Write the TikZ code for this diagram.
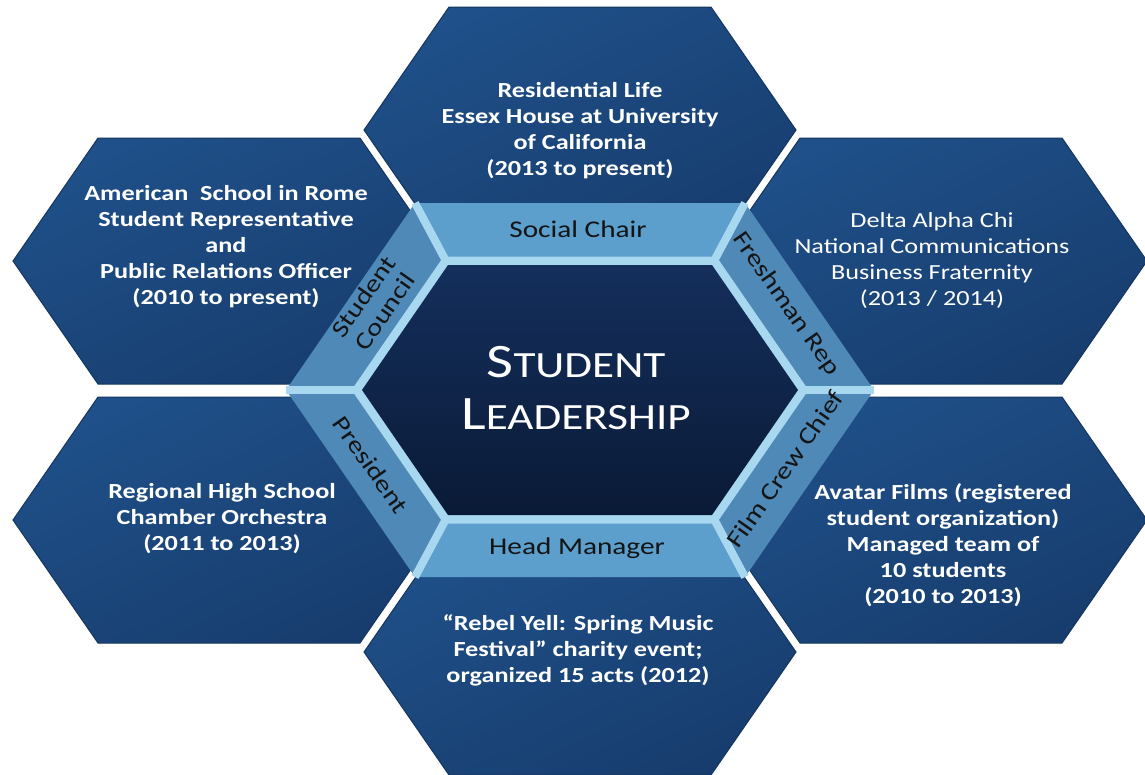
\documentclass[tikz,border=0pt]{standalone}
\usepackage{fontspec}
\setmainfont{Carlito}[FakeStretch=1.22]
\definecolor{hexA}{HTML}{1F5089}
\definecolor{hexB}{HTML}{173D6E}
\definecolor{hexE}{HTML}{14355F}
\definecolor{bandTB}{HTML}{5C9ECC}
\definecolor{bandS}{HTML}{4F89B7}
\definecolor{sep}{HTML}{A8D7F0}
\definecolor{darkA}{HTML}{142F5C}
\definecolor{darkB}{HTML}{0A1A36}
\definecolor{bandInk}{HTML}{141414}
\newcommand\myhex[5]{(#1-#3,#2) -- (#1-#4,#2-#5) -- (#1+#4,#2-#5) -- (#1+#3,#2) -- (#1+#4,#2+#5) -- (#1-#4,#2+#5) -- cycle}
\tikzset{
  hexout/.style={top color=hexA, bottom color=hexB, shading angle=25, draw=hexE, line width=1pt},
  bandtb/.style={fill=bandTB},
  bandside/.style={fill=bandS},
  sepline/.style={draw=sep, line width=8pt},
  darkhex/.style={top color=darkA, bottom color=darkB},
  hextext/.style={text=white, align=center, font=\bfseries\fontsize{21.5}{26}\selectfont, inner sep=0pt},
  hextextlight/.style={text=white, align=center, font=\fontsize{21.5}{26}\selectfont, inner sep=0pt},
  bandtext/.style={text=bandInk, align=center, font=\fontsize{24}{26}\selectfont, inner sep=0pt},
  centertext/.style={text=white, align=center, font=\fontsize{37}{52}\selectfont, inner sep=0pt}
}
\begin{document}
\begin{tikzpicture}[x=1pt,y=-1pt]
\useasboundingbox (0,0) rectangle (1145,774);
\fill[white] (0,0) rectangle (1145,774);
% outer hexagons
\path[hexout] \myhex{580}{130}{216}{131}{123};
\path[hexout] \myhex{229}{261}{216}{131}{123};
\path[hexout] \myhex{931}{261}{216}{131}{123};
\path[hexout] \myhex{229}{520}{216}{131}{123};
\path[hexout] \myhex{931}{520}{216}{131}{123};
\path[hexout] \myhex{580}{652}{216}{131}{123};
% ring coordinates
\coordinate (o1) at (286,390); \coordinate (o2) at (415,203); \coordinate (o3) at (745,203);
\coordinate (o4) at (874,390); \coordinate (o5) at (745,577); \coordinate (o6) at (415,577);
\coordinate (i1) at (364,390); \coordinate (i2) at (449,267); \coordinate (i3) at (711,267);
\coordinate (i4) at (796,390); \coordinate (i5) at (711,513); \coordinate (i6) at (449,513);
\coordinate (s1) at (357,390); \coordinate (s2) at (446,261); \coordinate (s3) at (714,261);
\coordinate (s4) at (803,390); \coordinate (s5) at (714,519); \coordinate (s6) at (446,519);
% bands
\path[bandtb] (o2) -- (o3) -- (i3) -- (i2) -- cycle;
\path[bandtb] (o5) -- (o6) -- (i6) -- (i5) -- cycle;
\path[bandside] (o1) -- (o2) -- (i2) -- (i1) -- cycle;
\path[bandside] (o3) -- (o4) -- (i4) -- (i3) -- cycle;
\path[bandside] (o4) -- (o5) -- (i5) -- (i4) -- cycle;
\path[bandside] (o6) -- (o1) -- (i1) -- (i6) -- cycle;
% separators
\foreach \k in {1,...,6} { \draw[sepline] (o\k) -- (s\k); }
\draw[sep, line width=9pt, line join=miter] (s1) -- (s2) -- (s3) -- (s4) -- (s5) -- (s6) -- cycle;
% central hexagon
\path[darkhex] \myhex{580}{390}{218}{132}{125};
% texts
\node[hextext] (tT) at (580,131) {Residential Life\\Essex House at University\\of California\\(2013 to present)};
\node[hextext] (tTL) at (226,247) {American\ \ School in Rome\\Student Representative\\and\\Public Relations Officer\\(2010 to present)};
\node[hextextlight] (tTR) at (932,261) {Delta Alpha Chi\\National Communications\\Business Fraternity\\(2013 / 2014)};
\node[hextext] (tBL) at (222,519) {Regional High School\\Chamber Orchestra\\(2011 to 2013)};
\node[hextext] (tBR) at (943,545) {Avatar Films (registered\\student organization)\\Managed team of\\10 students\\(2010 to 2013)};
\node[hextext] (tB) at (578,650) {“Rebel Yell: Spring Music\\Festival” charity event;\\organized 15 acts (2012)};
% band labels
\node[bandtext] (lSC) at (578,229) {Social Chair};
\node[bandtext] (lHM) at (577,548) {Head Manager};
\node[bandtext, rotate=55] (lStC) at (374,304) {Student\\Council};
\node[bandtext, rotate=-55] (lPr) at (371,465) {President};
\node[bandtext, rotate=-55] (lFR) at (786,304) {Freshman Rep};
\node[bandtext, rotate=55] (lFC) at (785,469) {Film Crew Chief};
% center
\node[centertext] (ctr) at (576,388) {{\fontsize{48}{52}\selectfont S}TUDENT\\{\fontsize{48}{52}\selectfont L}EADERSHIP};
\end{tikzpicture}
\end{document}
